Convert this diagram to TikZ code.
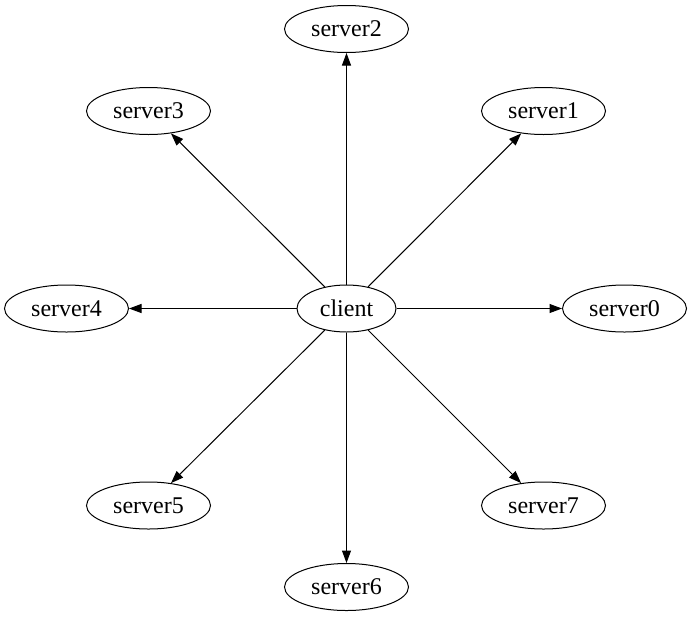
\documentclass[tikz,border=0pt]{standalone}
\usepackage{fontspec}
\setmainfont{Liberation Serif}
\usetikzlibrary{shapes.geometric,arrows.meta}
\tikzset{
  srv/.style={draw, ellipse, line width=1pt, minimum width=124pt, minimum height=47pt, inner sep=0pt, font=\fontsize{24}{28}\selectfont},
  cli/.style={srv, minimum width=99pt},
  edge/.style={line width=1pt, -{Triangle[length=12.5pt, width=9pt]}}
}
\begin{document}
\begin{tikzpicture}[x=1pt, y=-1pt]
\useasboundingbox (0,0) rectangle (692,616);
\node[cli] (c) at (346.5,308.5) {client};
\node[srv] (s0) at (624.5,308.5) {server0};
\node[srv] (s1) at (543.5,111) {server1};
\node[srv] (s2) at (346.5,29) {server2};
\node[srv] (s3) at (148.5,111) {server3};
\node[srv] (s4) at (66.5,308.5) {server4};
\node[srv] (s5) at (148.5,505.5) {server5};
\node[srv] (s6) at (346.5,587) {server6};
\node[srv] (s7) at (543.5,505.5) {server7};
\foreach \s in {s0,s1,s2,s3,s4,s5,s6,s7}
  \draw[edge] (c) -- (\s);
\end{tikzpicture}
\end{document}
